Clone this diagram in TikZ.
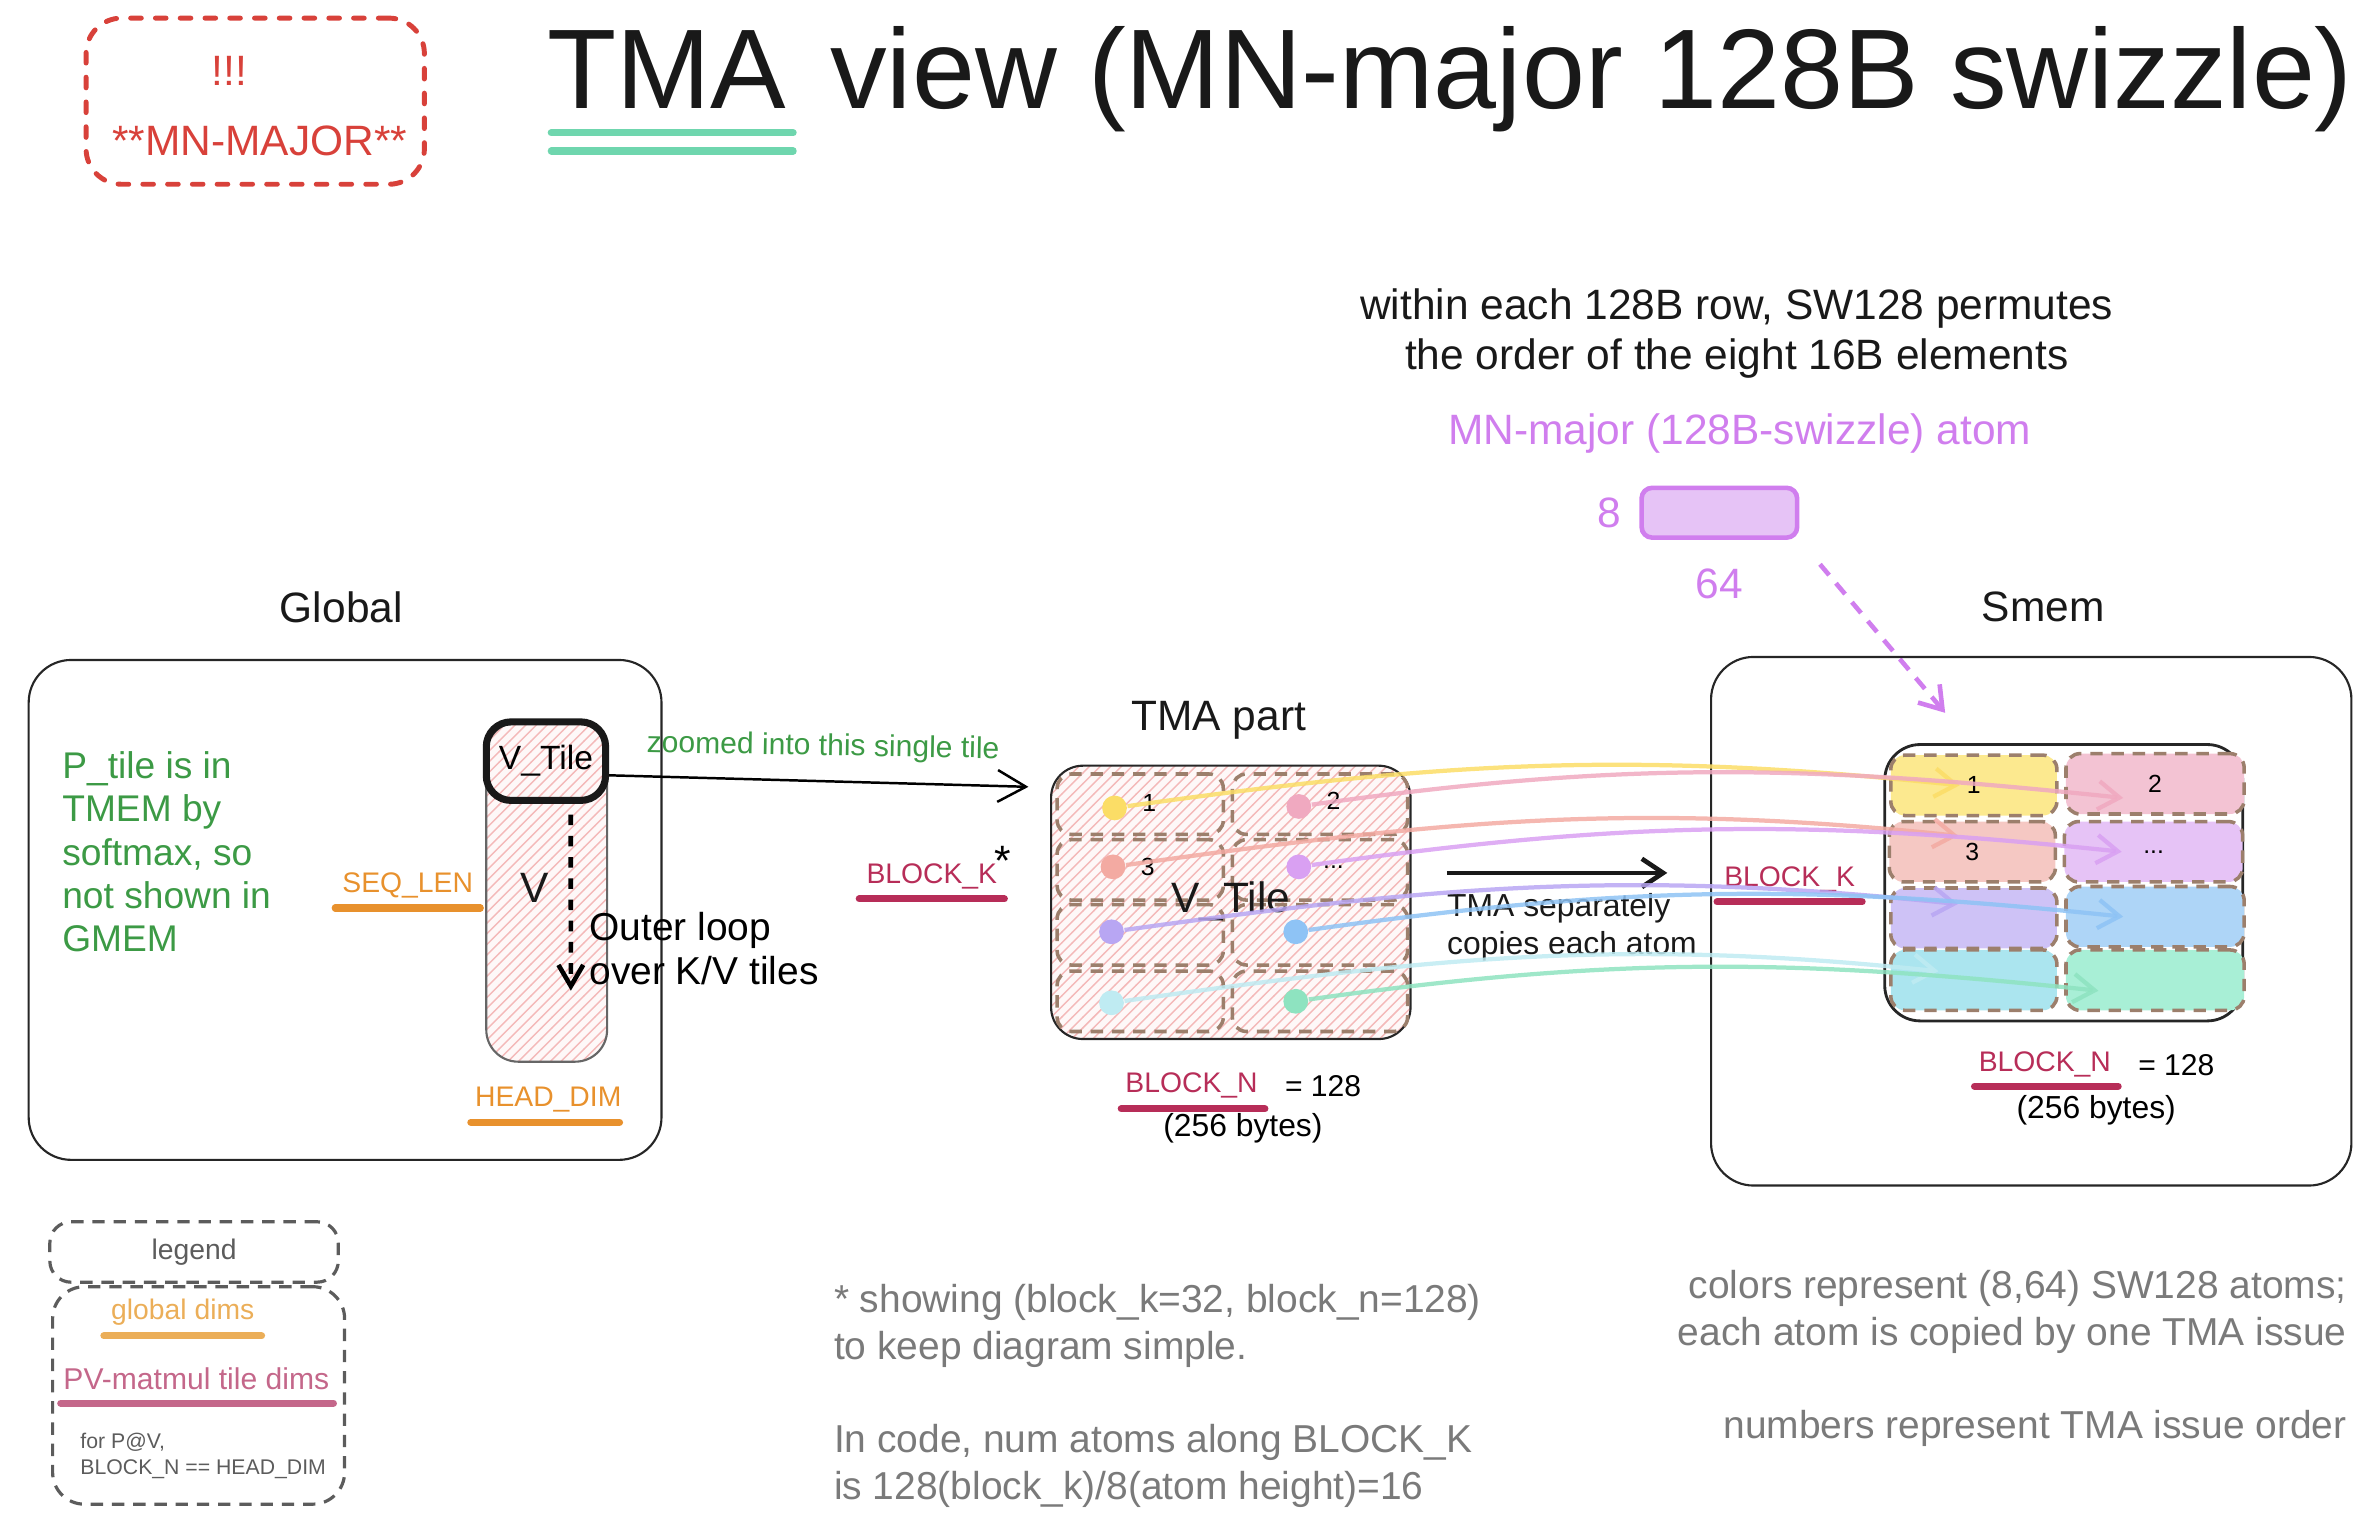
\documentclass[tikz,border=0pt]{standalone}
\usepackage{fontspec}
\setmainfont{Liberation Sans}
\usepackage{xcolor}
\usetikzlibrary{arrows.meta, positioning, calc, patterns}

\definecolor{sketchred}{HTML}{D8413A}
\definecolor{titlegreen}{HTML}{6FD6AE}
\definecolor{notegreen}{HTML}{3C9A45}
\definecolor{dimorange}{HTML}{E8912D}
\definecolor{legendorange}{HTML}{EBAE58}
\definecolor{tilecrimson}{HTML}{B72D58}
\definecolor{legendpink}{HTML}{C4678A}
\definecolor{atompurple}{HTML}{D07EEE}
\definecolor{atomfill}{HTML}{E6C3F6}
\definecolor{slotbrown}{HTML}{9C7F6C}
\definecolor{hatchpink}{HTML}{F4B9B9}
\definecolor{notegrey}{HTML}{7A7A7A}
\definecolor{legendgrey}{HTML}{5C5C5C}
% smem atom fills
\definecolor{fyellow}{HTML}{FCE98F}
\definecolor{fpink}{HTML}{F3C3D3}
\definecolor{fsalmon}{HTML}{F5C8C3}
\definecolor{fpurple}{HTML}{E6C3F6}
\definecolor{flavender}{HTML}{CEC2F6}
\definecolor{fblue}{HTML}{AED5F7}
\definecolor{fcyan}{HTML}{ABE5EF}
\definecolor{fmint}{HTML}{A8EFD6}
% copy arrow colours
\definecolor{cyellow}{HTML}{FBDD66}
\definecolor{cpink}{HTML}{F0A9C0}
\definecolor{csalmon}{HTML}{F3AAA2}
\definecolor{cpurple}{HTML}{D9A0F2}
\definecolor{clavender}{HTML}{B8A6F3}
\definecolor{cblue}{HTML}{8EC3F5}
\definecolor{ccyan}{HTML}{BFEBF2}
\definecolor{cmint}{HTML}{8EE3C0}

\tikzset{
  panel/.style={
    draw=black!85, line width=0.6pt, rounded corners=12pt
  },
  hatched/.style={
    rounded corners=9pt, line width=0.6pt,
    preaction={fill=hatchpink!10},
    pattern=north east lines, pattern color=hatchpink
  },
  tilehead/.style={
    draw=black!90, line width=2pt, rounded corners=7pt,
    font=\fontsize{9.5}{11}\selectfont
  },
  slot/.style={
    draw=slotbrown, line width=1pt, rounded corners=4pt,
    dash pattern=on 3.5pt off 2.5pt,
    minimum height=0.6cm, font=\fontsize{7}{8}\selectfont
  },
  dot/.style={circle, fill=#1, inner sep=0pt, minimum size=7pt},
  numtxt/.style={inner sep=1pt, font=\fontsize{7}{8}\selectfont},
  copyarrow/.style={
    -{Straight Barb[length=6pt,width=8pt]}, line width=1.2pt,
    draw=#1, opacity=0.85, out=8, in=174
  },
  sketcharrow/.style={-{Straight Barb[length=6pt,width=8pt]}, line width=1.3pt, draw=black!90},
  titletxt/.style={inner sep=0pt, font=\fontsize{32}{36}\selectfont, text=black!90},
  headtxt/.style={font=\fontsize{12}{14}\selectfont, text=black!90},
  notetxt/.style={font=\fontsize{12}{14}\selectfont, text=black!90, align=center},
  purpletxt/.style={inner sep=1pt, font=\fontsize{12}{14}\selectfont, text=atompurple},
  redtxt/.style={font=\fontsize{12}{14}\selectfont, text=sketchred},
  greentxt/.style={font=\fontsize{10.5}{12.2}\selectfont, text=notegreen, align=left},
  orangetxt/.style={inner sep=1pt, font=\fontsize{8}{9}\selectfont, text=dimorange},
  crimsontxt/.style={inner sep=1pt, font=\fontsize{8}{9}\selectfont, text=tilecrimson},
  smalltxt/.style={font=\fontsize{9}{10.7}\selectfont, text=black!90, align=left},
  greytxt/.style={font=\fontsize{11}{13.2}\selectfont, text=notegrey},
  underline/.style={line width=2pt, line cap=round, draw=#1}
}

\begin{document}
\begin{tikzpicture}[x=0.015cm, y=-0.015cm, node distance=6pt]
  \useasboundingbox (0,0) rectangle (1568,1004);

  % header
  \node[draw=sketchred, line width=1.4pt, rounded corners=10pt, dash pattern=on 3pt off 4pt,
        line cap=round, minimum width=3.36cm, minimum height=1.65cm] (warnbox) at (169,67) {};
  \node[redtxt] (bang) at (152,47) {!!!};
  \node[redtxt] (mnmajor) at (172,93) {**MN-MAJOR**};
  \node[titletxt, anchor=base west] (ttma) at (362,72) {TMA};
  \node[titletxt, base right=12pt of ttma] (trest) {view (MN-major 128B swizzle)};
  \draw[underline=titlegreen] ($(ttma.base west)+(3,16)$) -- ($(ttma.base east)+(4,16)$);
  \draw[underline=titlegreen] ($(ttma.base west)+(3,28)$) -- ($(ttma.base east)+(4,28)$);

  % swizzle atom
  \node[notetxt] (swznote) at (1150,221) {within each 128B row, SW128 permutes\\the order of the eight 16B elements};
  \node[purpletxt] (atomlbl) at (1152,287) {MN-major (128B-swizzle) atom};
  \node[draw=atompurple, fill=atomfill, line width=1.3pt, rounded corners=3pt,
        minimum width=1.545cm, minimum height=0.495cm] (atom) at (1138.5,339.5) {};
  \node[purpletxt, left=4pt of atom] (eight) {8};
  \node[purpletxt, below=7pt of atom] (sixtyfour) {64};
  \coordinate (swzend) at (1288,472);
  \draw[-{Straight Barb[length=6pt,width=8pt]}, draw=atompurple, line width=1.3pt,
        dash pattern=on 4pt off 3pt, shorten <=9pt] (atom.south east) -- (swzend);

  % global memory
  \node[headtxt] (globallbl) at (226,402) {Global};
  \node[panel, minimum width=6.285cm, minimum height=4.965cm] (global) at (228.5,602.5) {};
  \node[greentxt, anchor=west] (pnote) at (33,564) {P\_tile is in\\TMEM by\\softmax, so\\not shown in\\GMEM};
  \node[hatched, draw=black!60, minimum width=1.2cm, minimum height=3.375cm] (vcol) at (362,590.5) {};
  \node[tilehead, minimum width=1.185cm, minimum height=0.78cm] (vtile) at (361.5,504) {V\_Tile};
  \node[headtxt] (vname) at (354,588) {V};
  \coordinate (loopend) at (378,656);
  \draw[-{Straight Barb[length=6pt,width=7pt]}, line width=1.3pt, dashed, shorten <=3pt]
    ([xshift=7pt]vtile.south) -- (loopend);
  \node[font=\fontsize{11}{12.4}\selectfont, anchor=west, align=left] (looplbl) at (382,628) {Outer loop\\over K/V tiles};
  \node[orangetxt] (seqlen) at (270,586) {SEQ\_LEN};
  \draw[underline=dimorange] ($(seqlen.south west)+(-2,4)$) -- ($(seqlen.south east)+(2,4)$);
  \node[orangetxt] (headdim) at (363,728) {HEAD\_DIM};
  \draw[underline=dimorange] ($(headdim.south west)+(0,4)$) -- ($(headdim.south east)+(-4,4)$);

  % zoom into one tile
  \coordinate (zoomend) at (681,521);
  \draw[-{Straight Barb[length=8pt,width=9pt]}, line width=0.7pt] ([yshift=-4pt]vtile.east) -- (zoomend);
  \node[font=\fontsize{8.5}{10}\selectfont, text=notegreen, rotate=-1] (zoomlbl) at (545,495) {zoomed into this single tile};
  \node[crimsontxt] (bk1) at (617,580) {BLOCK\_K};
  \node[font=\fontsize{12}{12}\selectfont] (bkstar) at (664,570) {*};
  \draw[underline=tilecrimson] ($(bk1.south west)+(-2,4)$) -- ($(bk1.south east)+(2,4)$);

  % TMA part
  \node[headtxt] (tmalbl) at (807,477) {TMA part};
  \node[hatched, draw=black!85, minimum width=3.57cm, minimum height=2.715cm] (tmatile) at (815,597.5) {};
  \node[slot, minimum width=1.65cm] (ts1) at (755,532.5) {};
  \node[slot, minimum width=1.74cm] (ts2) at (874,532.5) {};
  \node[slot, minimum width=1.65cm] (ts3) at (755,576) {};
  \node[slot, minimum width=1.74cm] (ts4) at (874,576) {};
  \node[slot, minimum width=1.65cm] (ts5) at (755,619) {};
  \node[slot, minimum width=1.74cm] (ts6) at (874,619) {};
  \node[slot, minimum width=1.65cm] (ts7) at (755,663) {};
  \node[slot, minimum width=1.74cm] (ts8) at (874,663) {};
  \node[headtxt] (tmaname) at (815,597) {V\_Tile};
  \node[dot=cyellow] (d1) at (738,535) {};
  \node[dot=cpink] (d2) at (860,534) {};
  \node[dot=csalmon] (d3) at (737,574) {};
  \node[dot=cpurple] (d4) at (860,574) {};
  \node[dot=clavender] (d5) at (736,617) {};
  \node[dot=cblue] (d6) at (858,617) {};
  \node[dot=ccyan] (d7) at (736,664) {};
  \node[dot=cmint] (d8) at (858,663) {};
  \node[numtxt, right=3pt of d1, yshift=1.5pt] (n1) {1};
  \node[numtxt, right=3pt of d2, yshift=1.5pt] (n2) {2};
  \node[numtxt, right=3pt of d3] (n3) {3};
  \node[numtxt, right=2pt of d4] (n4) {...};
  \node[crimsontxt] (bn1) at (789,719) {BLOCK\_N};
  \node[font=\fontsize{8.5}{10}\selectfont, right=3pt of bn1] (eq1) {= 128};
  \draw[underline=tilecrimson] ($(bn1.south west)+(0,4)$) -- ($(bn1.south east)+(2,4)$);
  \node[font=\fontsize{9}{10}\selectfont] (bytes1) at (823,747) {(256 bytes)};

  % TMA copy
  \coordinate (sepstart) at (958,578);
  \coordinate (sepend) at (1104,578);
  \draw[sketcharrow] (sepstart) -- (sepend);
  \node[smalltxt, anchor=west] (seplbl) at (950,614) {TMA separately\\copies each atom};

  % shared memory
  \node[headtxt] (smemlbl) at (1353,402) {Smem};
  \node[panel, minimum width=6.36cm, minimum height=5.25cm] (smem) at (1345,610) {};
  \node[draw=black!85, line width=0.8pt, rounded corners=10pt,
        minimum width=3.555cm, minimum height=2.745cm] (smemtile) at (1366.5,584.5) {};
  \node[slot, fill=fyellow, minimum width=1.65cm] (sm1) at (1307,520) {1};
  \node[slot, fill=fpink, minimum width=1.77cm] (sm2) at (1427,519) {2};
  \node[slot, fill=fsalmon, minimum width=1.65cm] (sm3) at (1306,564) {3};
  \node[slot, fill=fpurple, minimum width=1.77cm] (sm4) at (1426,564) {...};
  \node[slot, fill=flavender, minimum width=1.65cm] (sm5) at (1307,608) {};
  \node[slot, fill=fblue, minimum width=1.77cm] (sm6) at (1427,607) {};
  \node[slot, fill=fcyan, minimum width=1.65cm] (sm7) at (1307,649) {};
  \node[slot, fill=fmint, minimum width=1.77cm] (sm8) at (1427,649) {};
  \node[crimsontxt] (bk2) at (1185,582) {BLOCK\_K};
  \draw[underline=tilecrimson] ($(bk2.south west)+(-2,4)$) -- ($(bk2.south east)+(2,4)$);
  \node[crimsontxt] (bn2) at (1354,705) {BLOCK\_N};
  \node[font=\fontsize{8.5}{10}\selectfont, right=3pt of bn2] (eq2) {= 128};
  \draw[underline=tilecrimson] ($(bn2.south west)+(0,3)$) -- ($(bn2.south east)+(2,3)$);
  \node[font=\fontsize{9}{10}\selectfont] (bytes2) at (1388,735) {(256 bytes)};

  % one TMA issue per atom
  \draw[copyarrow=cyellow] (d1) to ([xshift=-4pt]sm1.center);
  \draw[copyarrow=cpink] (d2) to ([xshift=-9pt,yshift=-4pt]sm2.center);
  \draw[copyarrow=csalmon] (d3) to ([xshift=-4pt,yshift=4.5pt]sm3.center);
  \draw[copyarrow=cpurple] (d4) to ([xshift=-9pt]sm4.center);
  \draw[copyarrow=clavender] (d5) to ([xshift=-4.5pt,yshift=4pt]sm5.center);
  \draw[copyarrow=cblue] (d6) to ([xshift=-9pt]sm6.center);
  \draw[copyarrow=ccyan] (d7) to ([xshift=-10pt,yshift=2.5pt]sm7.center);
  \draw[copyarrow=cmint] (d8) to ([xshift=-16pt,yshift=-3pt]sm8.center);

  % legend
  \node[draw=legendgrey, line width=0.9pt, dash pattern=on 3.5pt off 2.5pt, rounded corners=6pt,
        minimum width=2.865cm, minimum height=0.6cm, text=legendgrey,
        font=\fontsize{8}{9}\selectfont] (legendhead) at (128.5,829) {legend};
  \node[draw=legendgrey, line width=0.9pt, dash pattern=on 3.5pt off 2.5pt, rounded corners=9pt,
        minimum width=2.9cm, minimum height=2.16cm] (legendbody) at (131.5,924) {};
  \node[inner sep=1pt, font=\fontsize{8}{9}\selectfont, text=legendorange] (lgglobal) at (121,869) {global dims};
  \draw[underline=legendorange] ($(lgglobal.south west)+(-2,4)$) -- ($(lgglobal.south east)+(2,4)$);
  \node[inner sep=1pt, font=\fontsize{8.5}{10}\selectfont, text=legendpink] (lgtile) at (130,913) {PV-matmul tile dims};
  \draw[underline=legendpink] ($(lgtile.south west)+(1,6)$) -- ($(lgtile.south east)+(0,6)$);
  \node[font=\fontsize{6}{7.2}\selectfont, text=legendgrey, anchor=west, align=left] (lgnote) at (45,964) {for P@V,\\BLOCK\_N == HEAD\_DIM};

  % notes
  \node[greytxt, anchor=north west, align=left] (kbnote) at (544,842)
    {* showing (block\_k=32, block\_n=128)\\to keep diagram simple.\\[13.2pt]In code, num atoms along BLOCK\_K\\is 128(block\_k)/8(atom height)=16};
  \node[greytxt, anchor=north east, align=right] (colornote) at (1562,833)
    {colors represent (8,64) SW128 atoms;\\each atom is copied by one TMA issue\\[13.2pt]numbers represent TMA issue order};
\end{tikzpicture}
\end{document}
